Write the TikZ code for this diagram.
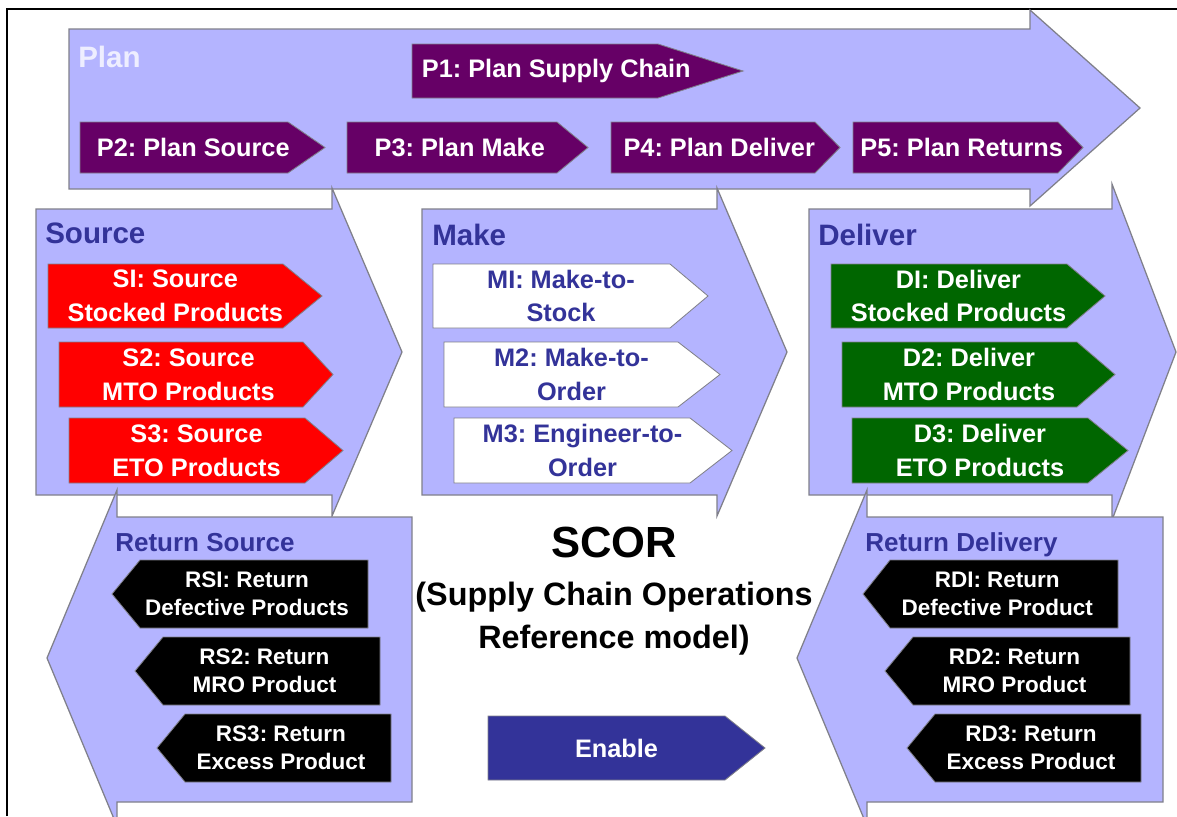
\documentclass[tikz,border=0pt]{standalone}
\usepackage{fontspec}
\setmainfont{Liberation Sans}
\usetikzlibrary{positioning}
\frenchspacing

\definecolor{stagefill}{RGB}{180,180,255}
\definecolor{stageline}{RGB}{128,128,138}
\definecolor{planpurple}{RGB}{102,0,102}
\definecolor{sourcered}{RGB}{255,0,0}
\definecolor{delivergreen}{RGB}{0,102,0}
\definecolor{scorblue}{RGB}{51,51,153}
\definecolor{planwhite}{RGB}{238,238,255}

\tikzstyle{stage}=[draw=stageline, line width=0.9pt, fill=stagefill]
\tikzstyle{proc}=[draw=stageline, line width=0.6pt]
\tikzstyle{proctext}=[inner sep=0pt, align=center, text=white, font=\fontsize{18}{24}\selectfont\bfseries]
\tikzstyle{rettext}=[proctext, font=\fontsize{16}{20}\selectfont\bfseries]
\tikzstyle{stagelabel}=[anchor=west, inner sep=0pt, text=scorblue, text height=15pt, text depth=0pt, font=\fontsize{21}{25}\selectfont\bfseries]
\tikzstyle{retlabel}=[stagelabel, text height=13pt, font=\fontsize{18.5}{22}\selectfont\bfseries]

% #1 path options, #2 text options, #3 name, #4 back x, #5 top y, #6 neck x, #7 tip x, #8 bottom y, #9 text
\newcommand{\procarrow}[9]{%
  \draw[proc, #1] (#4,#5) -- (#6,#5) -- (#7,{(#5+#8)/2}) -- (#6,#8) -- (#4,#8) -- cycle;
  \node[#2] (#3) at ({(#4+(#6+#7)/2)/2},{(#5+#8)/2}) {#9};
}

\begin{document}
\begin{tikzpicture}[x=0.025cm, y=-0.025cm]
    \useasboundingbox (0,0) rectangle (1177,816);

    % 枠線
    \draw[line width=1.3pt] (7,816) -- (7,9) -- (1177,9);

    % Plan
    \draw[stage] (69,29) -- (1030,29) -- (1030,10) -- (1140,108) -- (1030,206) -- (1030,189) -- (69,189) -- cycle;
    % Source, Make, Deliver
    \draw[stage] (36,209) -- (332,209) -- (332,188) -- (402,352) -- (332,516) -- (332,495) -- (36,495) -- cycle;
    \draw[stage] (422,209) -- (717,209) -- (717,188) -- (787,352) -- (717,516) -- (717,495) -- (422,495) -- cycle;
    \draw[stage] (809,209) -- (1112,209) -- (1112,184) -- (1176,352) -- (1112,520) -- (1112,495) -- (809,495) -- cycle;
    % Return Source, Return Delivery
    \draw[stage] (412,517) -- (117,517) -- (117,490) -- (47,658) -- (117,826) -- (117,802) -- (412,802) -- cycle;
    \draw[stage] (1163,517) -- (867,517) -- (867,490) -- (797,658) -- (867,826) -- (867,802) -- (1163,802) -- cycle;

    % 見出し
    \node[stagelabel, text=planwhite] (plan) at (78,57) {Plan};
    \node[stagelabel] (source) at (45,233) {Source};
    \node[stagelabel] (make) at (432,235) {Make};
    \node[stagelabel] (deliver) at (818,235) {Deliver};
    \node[retlabel] (retsource) at (115,542) {Return Source};
    \node[retlabel] (retdeliver) at (865,542) {Return Delivery};

    % Plan の工程
    \procarrow{fill=planpurple}{proctext}{p1}{412}{44}{658}{743}{98}{P1: Plan Supply Chain}
    \procarrow{fill=planpurple}{proctext}{p2}{80}{122}{288}{325}{173}{P2: Plan Source}
    \procarrow{fill=planpurple}{proctext}{p3}{347}{122}{557}{588}{173}{P3: Plan Make}
    \procarrow{fill=planpurple}{proctext}{p4}{611}{122}{815}{840}{173}{P4: Plan Deliver}
    \procarrow{fill=planpurple}{proctext}{p5}{853}{122}{1058}{1083}{173}{P5: Plan Returns}

    % Source の工程
    \procarrow{fill=sourcered}{proctext}{s1}{48}{264}{283}{322}{328}{SI: Source\\Stocked Products}
    \procarrow{fill=sourcered}{proctext}{s2}{59}{342}{303}{333}{407}{S2: Source\\MTO Products}
    \procarrow{fill=sourcered}{proctext}{s3}{69}{418}{305}{343}{483}{S3: Source\\ETO Products}

    % Make の工程
    \procarrow{fill=white}{proctext, text=scorblue}{m1}{433}{264}{670}{708}{328}{MI: Make-to-\\Stock}
    \procarrow{fill=white}{proctext, text=scorblue}{m2}{444}{342}{678}{720}{407}{M2: Make-to-\\Order}
    \procarrow{fill=white}{proctext, text=scorblue}{m3}{454}{418}{690}{732}{483}{M3: Engineer-to-\\Order}

    % Deliver の工程
    \procarrow{fill=delivergreen}{proctext}{d1}{831}{264}{1067}{1105}{328}{DI: Deliver\\Stocked Products}
    \procarrow{fill=delivergreen}{proctext}{d2}{842}{342}{1077}{1115}{407}{D2: Deliver\\MTO Products}
    \procarrow{fill=delivergreen}{proctext}{d3}{852}{418}{1088}{1128}{483}{D3: Deliver\\ETO Products}

    % 返品の工程
    \procarrow{fill=black}{rettext}{rs1}{368}{560}{140}{112}{628}{RSI: Return\\Defective Products}
    \procarrow{fill=black}{rettext}{rs2}{380}{637}{163}{135}{705}{RS2: Return\\MRO Product}
    \procarrow{fill=black}{rettext}{rs3}{391}{714}{185}{157}{782}{RS3: Return\\Excess Product}
    \procarrow{fill=black}{rettext}{rd1}{1118}{560}{890}{863}{628}{RDI: Return\\Defective Product}
    \procarrow{fill=black}{rettext}{rd2}{1130}{637}{913}{885}{705}{RD2: Return\\MRO Product}
    \procarrow{fill=black}{rettext}{rd3}{1141}{714}{935}{907}{782}{RD3: Return\\Excess Product}

    % Enable
    \procarrow{fill=scorblue}{proctext}{enable}{488}{716}{725}{765}{780}{Enable}

    % タイトル
    \node[font=\fontsize{31}{36}\selectfont\bfseries] (scor) at (614,542) {SCOR};
    \node[align=center, font=\fontsize{23}{30.5}\selectfont\bfseries] (scorname) at (614,619) {(Supply Chain Operations\\Reference model)};
\end{tikzpicture}
\end{document}
